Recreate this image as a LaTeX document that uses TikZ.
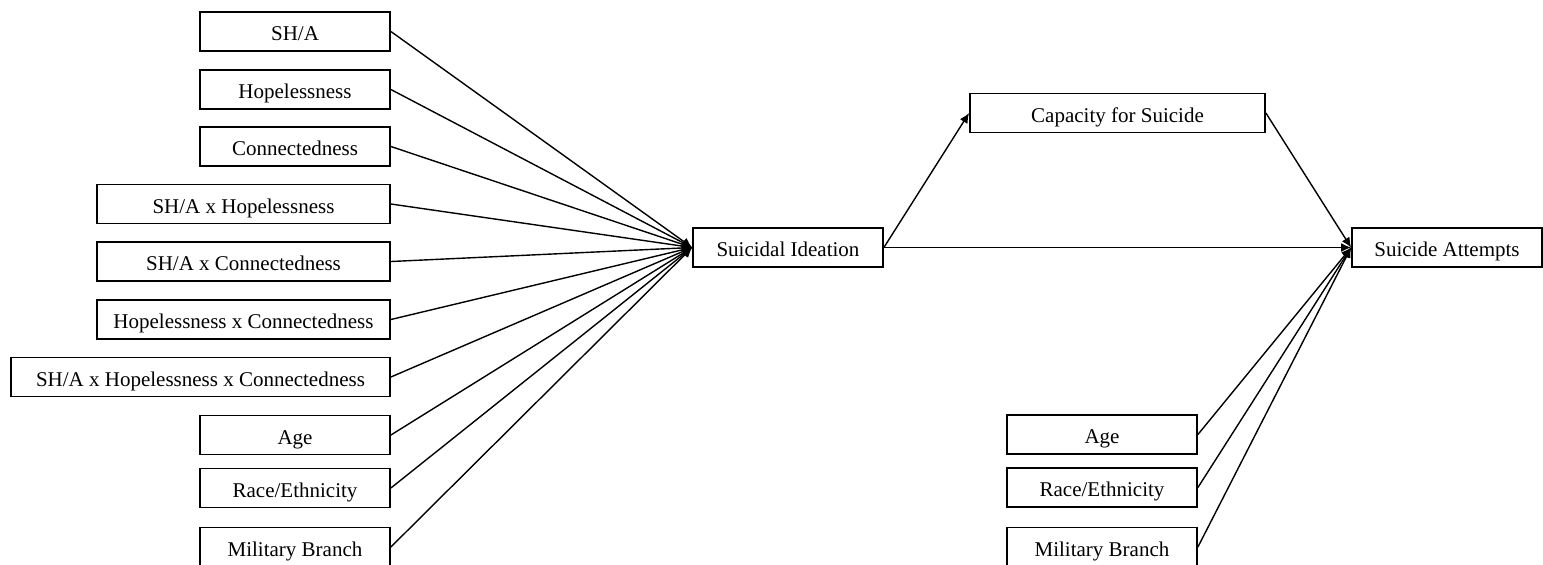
\documentclass[tikz,border=0pt]{standalone}
\usepackage{fontspec}
\setmainfont{Liberation Serif}
\usetikzlibrary{arrows.meta}
\tikzset{
  box/.style={draw, line width=0.9pt, inner sep=0pt, minimum height=19.5pt, text height=9.2pt, text depth=0pt, font=\fontsize{10.5}{12}\selectfont},
  w1/.style={minimum width=95pt},
  w2/.style={minimum width=146.5pt},
  w3/.style={minimum width=189.5pt},
  w4/.style={minimum width=147.5pt},
  conn/.style={line width=0.7pt, -{Latex[length=5pt,width=4.5pt]}}
}
\begin{document}
\begin{tikzpicture}[x=0.5pt,y=-0.5pt]
\useasboundingbox (0,0) rectangle (1543,564);
% left column
\node[box,w1] (sha) at (295,31.5) {SH/A};
\node[box,w1] (hop) at (295,89.5) {Hopelessness};
\node[box,w1] (con) at (295,146.5) {Connectedness};
\node[box,w2] (shxh) at (243.5,204) {SH/A x Hopelessness};
\node[box,w2] (shxc) at (243.5,261.5) {SH/A x Connectedness};
\node[box,w2] (hxc) at (243.5,319.5) {Hopelessness x Connectedness};
\node[box,w3] (shxhxc) at (200.5,377) {SH/A x Hopelessness x Connectedness};
\node[box,w1] (age) at (295,435) {Age};
\node[box,w1] (race) at (295,488) {Race/Ethnicity};
\node[box,w1] (mil) at (295,547) {Military Branch};
% middle
\node[box,w1] (si) at (788,247.5) {Suicidal Ideation};
\node[box,w4] (cap) at (1117.5,113) {Capacity for Suicide};
\node[box,w1] (sa) at (1447,247.5) {Suicide Attempts};
% right column
\node[box,w1] (age2) at (1102,434.5) {Age};
\node[box,w1] (race2) at (1102,487.5) {Race/Ethnicity};
\node[box,w1] (mil2) at (1102,547) {Military Branch};
% connectors
\foreach \n in {sha,hop,con,shxh,shxc,hxc,shxhxc,age,race,mil}
  \draw[conn] (\n.east) -- (si.west);
\draw[conn] (si.east) -- (cap.west);
\draw[conn] (si.east) -- (sa.west);
\draw[conn] (cap.east) -- (sa.west);
\foreach \n in {age2,race2,mil2}
  \draw[conn] (\n.east) -- (sa.west);
\end{tikzpicture}
\end{document}
